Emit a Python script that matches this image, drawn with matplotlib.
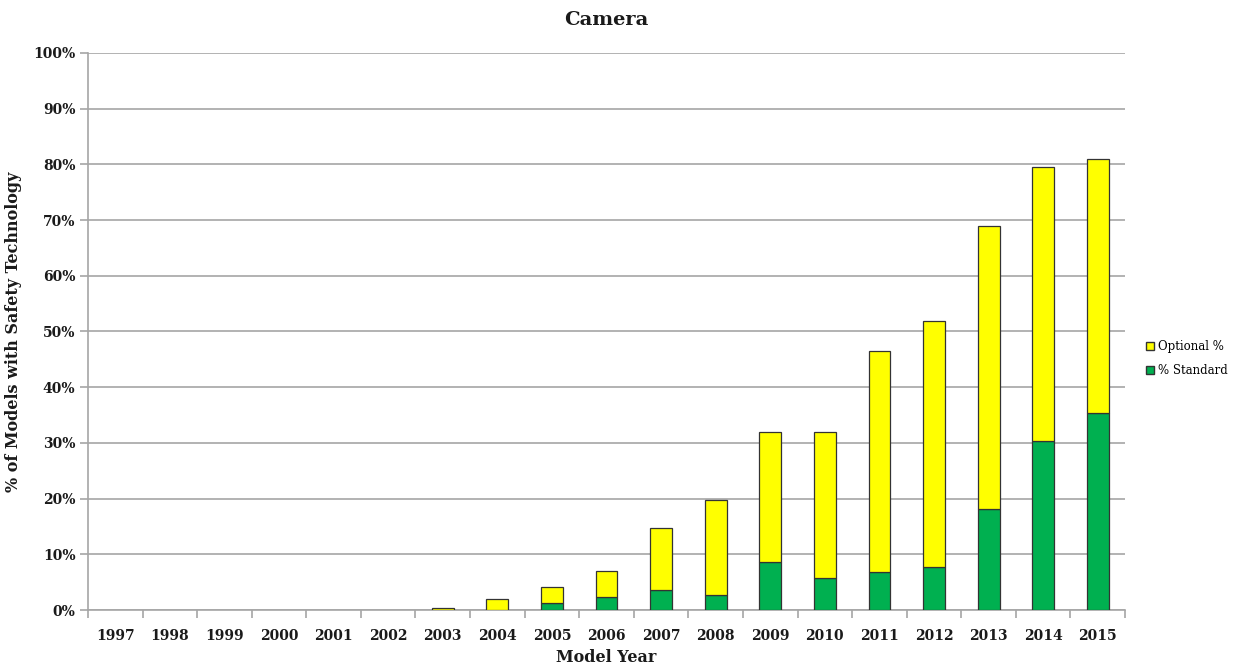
import matplotlib
matplotlib.use("Agg")
import matplotlib.pyplot as plt
import numpy as np
from matplotlib.patches import Patch
from matplotlib.ticker import PercentFormatter, FixedLocator

years = [1997, 1998, 1999, 2000, 2001, 2002, 2003, 2004, 2005, 2006,
         2007, 2008, 2009, 2010, 2011, 2012, 2013, 2014, 2015]
standard_pct = [0, 0, 0, 0, 0, 0, 0, 0, 1.2, 2.3,
                3.6, 2.7, 8.7, 5.8, 6.9, 7.8, 18.1, 30.4, 35.4]
total_pct = [0, 0, 0, 0, 0, 0, 0.4, 1.9, 4.1, 7.0,
             14.8, 19.8, 32.0, 32.0, 46.5, 51.8, 69.0, 79.6, 81.0]
optional_pct = [t - s for t, s in zip(total_pct, standard_pct)]

GREEN = "#00b050"
YELLOW = "#ffff00"
GRID = "#a6a6a6"
TEXT = "#1a1a1a"
EDGE = "#333333"

plt.rcParams["font.family"] = ["DejaVu Serif"]

fig = plt.figure(figsize=(12.37, 6.68), dpi=100)
ax = fig.add_axes([0.0711, 0.0868, 0.8384, 0.8339])

x = np.arange(len(years))
std = np.array(standard_pct, dtype=float)
opt = np.array(optional_pct, dtype=float)
w = 0.4

# only draw segments that have a non-zero height
m_std = std > 0
m_opt = opt > 0
ax.bar(x[m_std], std[m_std], w, color=GREEN, edgecolor=EDGE, linewidth=0.9, zorder=3)
ax.bar(x[m_opt], opt[m_opt], w, bottom=std[m_opt], color=YELLOW,
       edgecolor=EDGE, linewidth=0.9, zorder=3)

ax.set_xlim(-0.5, len(years) - 0.5)
ax.set_ylim(0, 100)
ax.set_yticks(np.arange(0, 101, 10))
ax.yaxis.set_major_formatter(PercentFormatter(decimals=0))
ax.grid(axis="y", color=GRID, linewidth=1.2, zorder=0)

ax.set_xticks(x)
ax.set_xticklabels([str(y) for y in years])
ax.xaxis.set_minor_locator(FixedLocator(np.arange(-0.5, len(years), 1.0)))
ax.tick_params(axis="x", which="major", length=0, pad=14)
ax.tick_params(axis="x", which="minor", length=6, color=GRID, width=1.2)
ax.tick_params(axis="y", length=6, color=GRID, width=1.2, pad=3)

for lab in ax.get_xticklabels() + ax.get_yticklabels():
    lab.set_fontweight("bold")
    lab.set_fontsize(10)
    lab.set_color(TEXT)

for side in ("top", "right"):
    ax.spines[side].set_visible(False)
for side in ("left", "bottom"):
    ax.spines[side].set_color(GRID)
    ax.spines[side].set_linewidth(1.2)

ax.set_xlabel("Model Year", fontsize=11.5, fontweight="bold", color=TEXT, labelpad=4)
ax.set_ylabel("% of Models with Safety Technology", fontsize=11.5,
              fontweight="bold", color=TEXT, labelpad=8)
ax.set_title("Camera", fontsize=14, fontweight="bold", color=TEXT, pad=20)

handles = [Patch(facecolor=YELLOW, edgecolor=EDGE, label="Optional %"),
           Patch(facecolor=GREEN, edgecolor=EDGE, label="% Standard")]
fig.legend(handles=handles, loc="center left", bbox_to_anchor=(0.918, 0.463),
           frameon=False, fontsize=8.5, handlelength=0.7, handleheight=0.7,
           handletextpad=0.3, labelspacing=0.9)

fig.savefig("out.png", dpi=100, facecolor="white")
